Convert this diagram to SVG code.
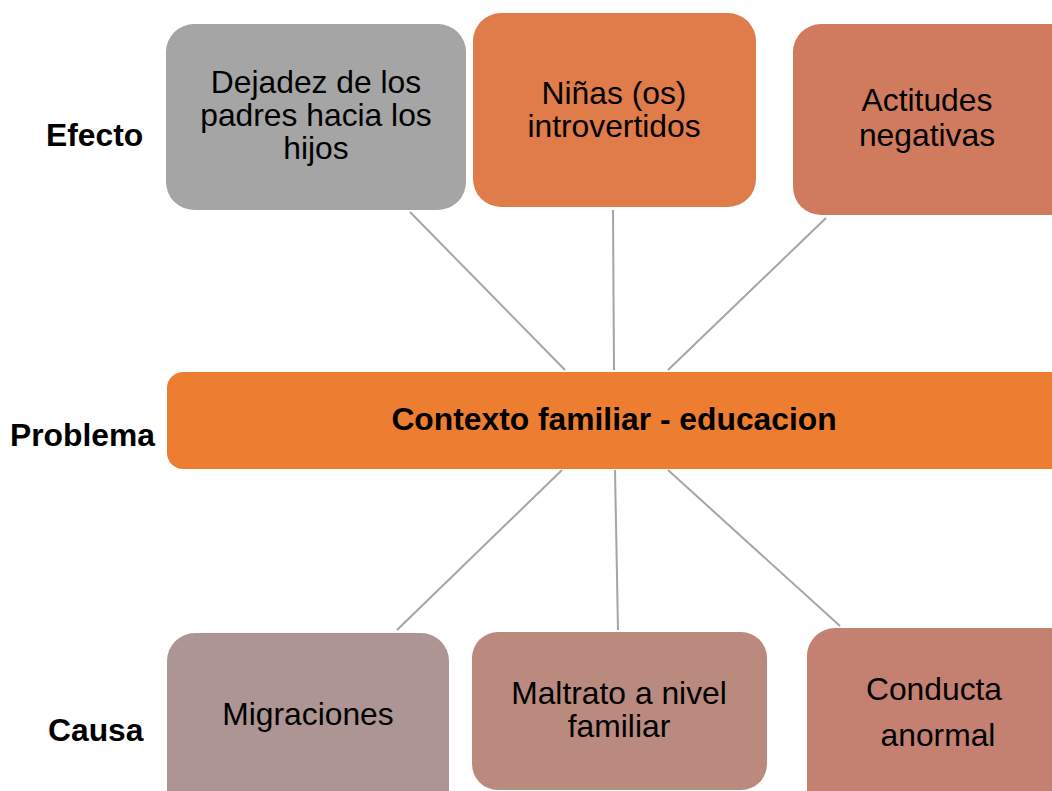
<svg xmlns="http://www.w3.org/2000/svg" width="1052" height="791" viewBox="0 0 1052 791">
<style>
.t{font-family:"Liberation Sans",Arial,sans-serif;font-size:31.8px;fill:#000;text-anchor:middle}
.b{font-weight:bold}
.lbl{font-family:"Liberation Sans",Arial,sans-serif;font-size:31.8px;font-weight:bold;fill:#000}
.c{stroke:#A5A5A5;stroke-width:2;fill:none}
</style>
<rect width="1052" height="791" fill="#fff"/>
<g id="connectors">
<line class="c" x1="410" y1="212" x2="565" y2="370"/>
<line class="c" x1="613" y1="210" x2="614" y2="370"/>
<line class="c" x1="826" y1="218" x2="668" y2="370"/>
<line class="c" x1="562" y1="470" x2="397" y2="630"/>
<line class="c" x1="615" y1="470" x2="618" y2="630"/>
<line class="c" x1="668" y1="470" x2="840" y2="626"/>
</g>
<g id="label-efecto"><text class="lbl" x="46" y="146">Efecto</text></g>
<g id="label-problema"><text class="lbl" x="10" y="446">Problema</text></g>
<g id="label-causa"><text class="lbl" x="48" y="741">Causa</text></g>
<g id="n-dejadez">
<rect x="166" y="24" width="300" height="186" rx="28" fill="#A5A5A5"/>
<text class="t" x="316" y="93">Dejadez de los</text>
<text class="t" x="316" y="126">padres hacia los</text>
<text class="t" x="316" y="159">hijos</text>
</g>
<g id="n-ninas">
<rect x="473" y="13" width="283" height="194" rx="28" fill="#E07B4A"/>
<text class="t" x="614" y="104">Niñas (os)</text>
<text class="t" x="614" y="137">introvertidos</text>
</g>
<g id="n-actitudes">
<rect x="793" y="24" width="290" height="191" rx="28" fill="#D17B5E"/>
<text class="t" x="927" y="111">Actitudes</text>
<text class="t" x="927" y="146">negativas</text>
</g>
<g id="n-contexto">
<rect x="167" y="372" width="920" height="97" rx="16" fill="#ED7D31"/>
<text class="t b" x="614" y="430">Contexto familiar - educacion</text>
</g>
<g id="n-migraciones">
<rect x="167" y="633" width="282" height="190" rx="28" fill="#AD9593"/>
<text class="t" x="308" y="725">Migraciones</text>
</g>
<g id="n-maltrato">
<rect x="472" y="632" width="295" height="158" rx="26" fill="#BA8A7F"/>
<text class="t" x="619" y="704">Maltrato a nivel</text>
<text class="t" x="619" y="737">familiar</text>
</g>
<g id="n-conducta">
<rect x="807" y="628" width="280" height="200" rx="28" fill="#C48070"/>
<text class="t" x="934" y="700">Conducta</text>
<text class="t" x="938" y="746">anormal</text>
</g>
</svg>
